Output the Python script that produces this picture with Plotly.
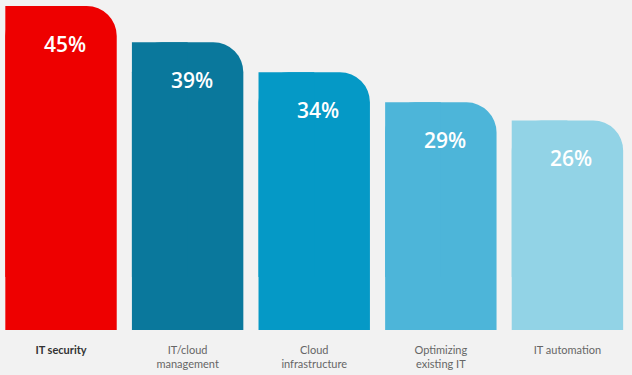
import plotly.graph_objects as go

categories = ["IT security", "IT/cloud<br>management", "Cloud<br>infrastructure",
              "Optimizing<br>existing IT", "IT automation"]
values = [45, 39, 34, 29, 26]
value_labels = ["45%", "39%", "34%", "29%", "26%"]
colors = ["#ee0000", "#0a789c", "#0599c6", "#4db5d9", "#92d3e6"]

AXIS_FLOOR = -8.8  # value axis does not start at zero in the design
x = list(range(len(categories)))

fig = go.Figure()
# value bars from zero, top corners rounded
fig.add_trace(go.Bar(
    x=x, y=values, width=0.88, offset=-0.44,
    marker=dict(color=colors, cornerradius=30, line=dict(width=0)),
    hoverinfo="skip", showlegend=False,
))
# square left half so only the top-right corner stays rounded
fig.add_trace(go.Bar(
    x=x, y=values, width=0.44, offset=-0.44,
    marker=dict(color=colors, line=dict(width=0)),
    hoverinfo="skip", showlegend=False,
))
# plinth from the axis floor up to zero
fig.add_trace(go.Bar(
    x=x, y=[-AXIS_FLOOR] * len(x), base=AXIS_FLOOR, width=0.88, offset=-0.44,
    marker=dict(color=colors, line=dict(width=0)),
    hoverinfo="skip", showlegend=False,
))

for xi, v, t in zip(x, values, value_labels):
    fig.add_annotation(
        x=xi, y=v, text=t, showarrow=False, xshift=4, yshift=-38,
        font=dict(family="Open Sans", size=21, color="white", weight=600),
    )

ticktext = []
for i, c in enumerate(categories):
    if i == 0:
        ticktext.append("<span style='color:#333333'><b>" + c + "</b></span>")
    else:
        ticktext.append(c)

fig.update_layout(
    width=632, height=375,
    margin=dict(l=0, r=0, t=0, b=45),
    paper_bgcolor="#f2f2f2", plot_bgcolor="#f2f2f2",
    barmode="overlay",
    xaxis=dict(
        range=[-0.482, 4.51], tickvals=x, ticktext=ticktext,
        showgrid=False, zeroline=False, showline=False, ticks="",
        ticklabelstandoff=12,
        tickfont=dict(family="Lato", size=11, color="#666666"),
        fixedrange=True,
    ),
    yaxis=dict(range=[AXIS_FLOOR, 46.0], visible=False, fixedrange=True),
)

fig.write_html(
    "out.html",
    config={"displayModeBar": False},
    post_script="document.body.style.margin='0';document.body.style.overflow='hidden';",
)
